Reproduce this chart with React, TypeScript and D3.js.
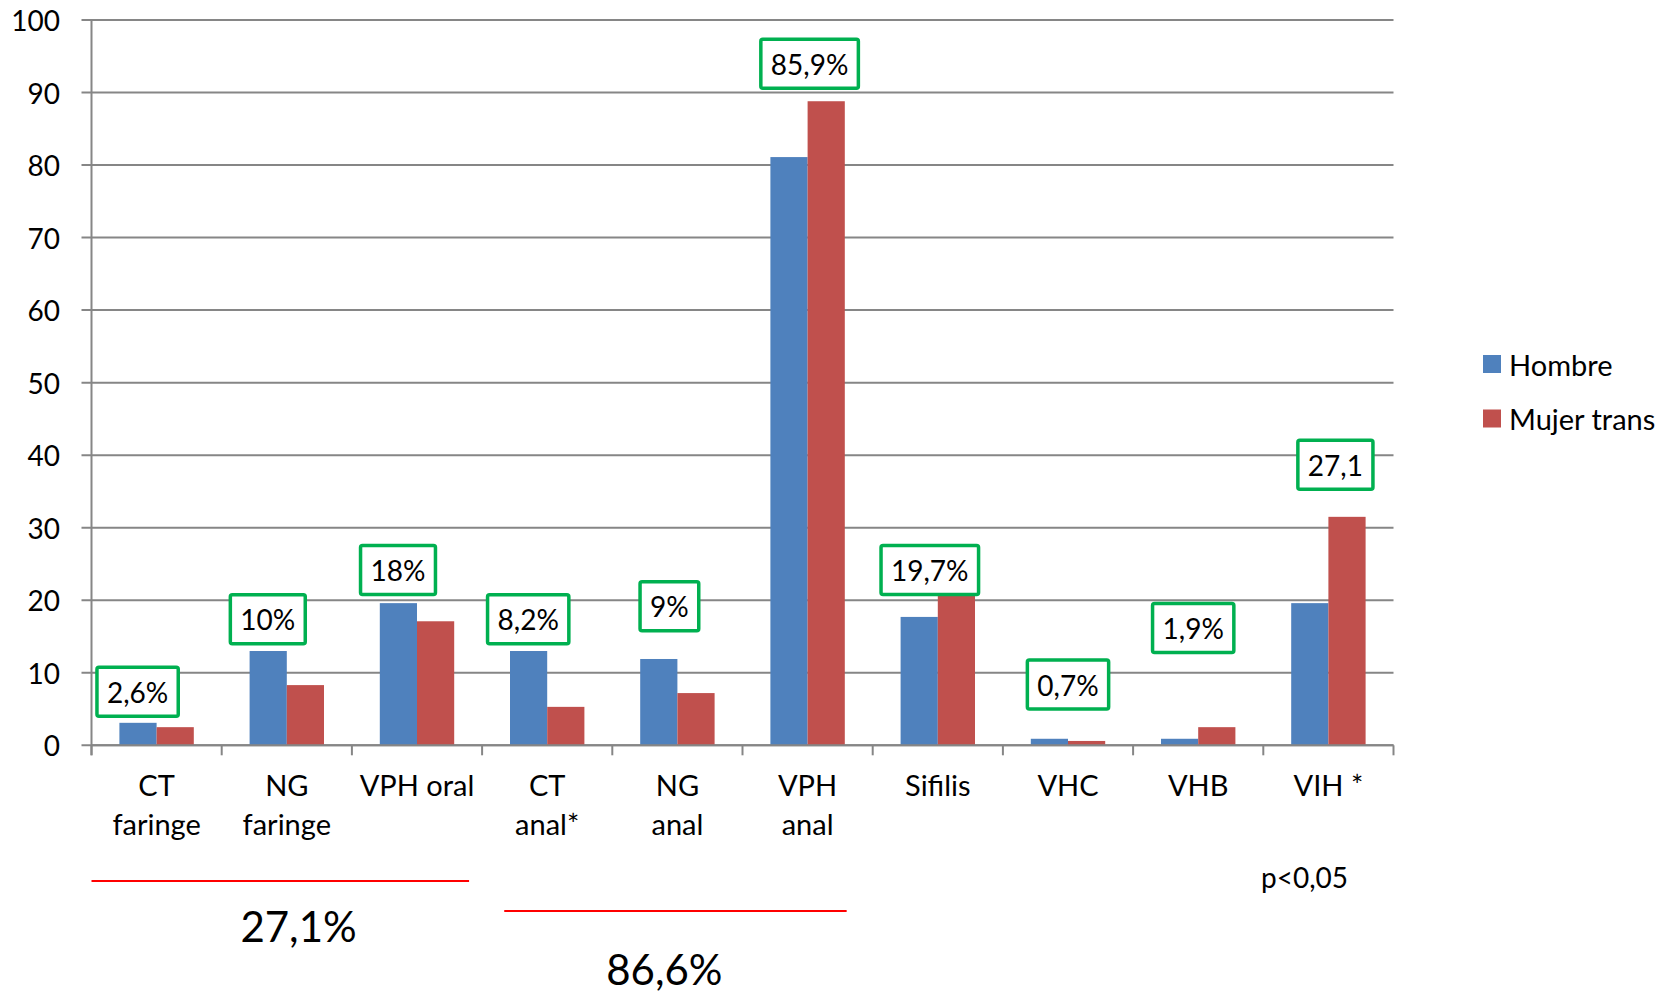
import { useEffect, useRef } from 'react';
import * as d3 from 'd3';

// Categories (multi-line labels) and the two series
const categories: string[][] = [
  ['CT', 'faringe'],
  ['NG', 'faringe'],
  ['VPH oral'],
  ['CT', 'anal*'],
  ['NG', 'anal'],
  ['VPH', 'anal'],
  ['Sifilis'],
  ['VHC'],
  ['VHB'],
  ['VIH *'],
];
const hombre = [3.1, 13.0, 19.6, 13.0, 11.9, 81.1, 17.7, 0.9, 0.9, 19.6];
const mujerTrans = [2.5, 8.3, 17.1, 5.3, 7.2, 88.8, 20.7, 0.6, 2.5, 31.5];
const seriesNames = ['Hombre', 'Mujer trans'];
const yTicks = [0, 10, 20, 30, 40, 50, 60, 70, 80, 90, 100];

// Overall prevalence callouts (green boxes) and the value their box sits on
const overallLabels = ['2,6%', '10%', '18%', '8,2%', '9%', '85,9%', '19,7%', '0,7%', '1,9%', '27,1'];
const overallAt = [4.0, 14.0, 20.8, 14.0, 15.8, 90.6, 20.8, 5.0, 12.8, 35.3];

// Grouped totals under the axis
const groupLabels = ['27,1%', '86,6%'];
const pNote = 'p<0,05';

// layout only
const boxShift = [-19, -19, -19, -19, -8, 2, -8, 0, -5, 7];
const groupSpans = [
  { from: 0, to: 2.9, lineY: 881, textC: 1.59, textY: 942 },
  { from: 3.17, to: 5.8, lineY: 911, textC: 4.4, textY: 985 },
];

const W = 1677;
const H = 993;
const FONT = 'Lato, "Open Sans", sans-serif';
const BLUE = '#4F81BD';
const RED = '#C0504D';
const GRID = '#868686';
const GREEN = '#00B050';

export default function App() {
  const svgRef = useRef<SVGSVGElement>(null);

  useEffect(() => {
    if (!svgRef.current) return;
    const svg = d3.select(svgRef.current);
    svg.selectAll('*').remove();

    const left = 91.5;
    const right = 1393.5;
    const top = 20;
    const bottom = 745.3;

    const x = d3.scaleBand<number>()
      .domain(d3.range(categories.length))
      .range([left, right])
      .paddingInner(0)
      .paddingOuter(0);
    const band = x.bandwidth();
    const barW = band / 3.5; // Excel gap width 150%

    const y = d3.scaleLinear().domain([0, 100]).range([bottom, top]);

    // gridlines + y ticks
    const grid = svg.append('g');
    grid.selectAll('line')
      .data(yTicks)
      .join('line')
      .attr('x1', left - 10)
      .attr('x2', right)
      .attr('y1', d => y(d))
      .attr('y2', d => y(d))
      .attr('stroke', GRID)
      .attr('stroke-width', 2);

    grid.selectAll('text')
      .data(yTicks)
      .join('text')
      .attr('x', 60)
      .attr('y', d => y(d))
      .attr('text-anchor', 'end')
      .attr('dominant-baseline', 'central')
      .style('font-family', FONT)
      .style('font-size', '28px')
      .style('fill', '#000')
      .text(d => d);

    // axes
    svg.append('line')
      .attr('x1', left).attr('x2', left)
      .attr('y1', top).attr('y2', bottom + 10)
      .attr('stroke', GRID).attr('stroke-width', 2);

    svg.append('g')
      .selectAll('line')
      .data(d3.range(categories.length + 1))
      .join('line')
      .attr('x1', i => left + i * band)
      .attr('x2', i => left + i * band)
      .attr('y1', bottom)
      .attr('y2', bottom + 10)
      .attr('stroke', GRID)
      .attr('stroke-width', 2);

    // bars
    const bars = svg.append('g');
    [hombre, mujerTrans].forEach((series, s) => {
      bars.append('g')
        .selectAll('rect')
        .data(series)
        .join('rect')
        .attr('x', (_, i) => (x(i) as number) + band / 2 - barW + s * barW)
        .attr('y', d => y(d))
        .attr('width', barW)
        .attr('height', d => bottom - y(d))
        .attr('fill', s === 0 ? BLUE : RED);
    });

    // x axis line drawn over the bars
    svg.append('line')
      .attr('x1', left).attr('x2', right)
      .attr('y1', bottom).attr('y2', bottom)
      .attr('stroke', GRID).attr('stroke-width', 2);

    // category labels
    const xl = svg.append('g');
    categories.forEach((lines, i) => {
      const cx = (x(i) as number) + band / 2;
      const t = xl.append('text')
        .attr('x', cx)
        .attr('y', 796)
        .attr('text-anchor', 'middle')
        .style('font-family', FONT)
        .style('font-size', '29px')
        .style('fill', '#000');
      lines.forEach((ln, k) => {
        t.append('tspan')
          .attr('x', cx)
          .attr('dy', k === 0 ? 0 : 39)
          .text(ln);
      });
    });

    // green callout boxes
    const boxes = svg.append('g');
    overallLabels.forEach((lab, i) => {
      const cx = (x(i) as number) + band / 2 + boxShift[i];
      const yb = y(overallAt[i]);
      const g = boxes.append('g');
      const rect = g.append('rect')
        .attr('fill', '#fff')
        .attr('stroke', GREEN)
        .attr('stroke-width', 3.5)
        .attr('rx', 2);
      const txt = g.append('text')
        .attr('x', cx)
        .attr('y', yb - 24.5)
        .attr('text-anchor', 'middle')
        .attr('dominant-baseline', 'central')
        .style('font-family', FONT)
        .style('font-size', '28px')
        .style('fill', '#000')
        .text(lab);
      const tw = (txt.node() as SVGTextElement).getComputedTextLength();
      const bw = tw + 20;
      rect.attr('x', cx - bw / 2)
        .attr('y', yb - 49)
        .attr('width', bw)
        .attr('height', 49);
    });

    // legend
    const legend = svg.append('g');
    seriesNames.forEach((name, i) => {
      const ly = 364 + i * 54.5;
      legend.append('rect')
        .attr('x', 1483)
        .attr('y', ly - 9)
        .attr('width', 18)
        .attr('height', 18)
        .attr('fill', i === 0 ? BLUE : RED);
      legend.append('text')
        .attr('x', 1509)
        .attr('y', ly)
        .attr('dominant-baseline', 'central')
        .style('font-family', FONT)
        .style('font-size', '29px')
        .style('fill', '#000')
        .text(name);
    });

    // group brackets under the axis
    groupSpans.forEach((gs, i) => {
      svg.append('line')
        .attr('x1', left + gs.from * band)
        .attr('x2', left + gs.to * band)
        .attr('y1', gs.lineY)
        .attr('y2', gs.lineY)
        .attr('stroke', '#FF0000')
        .attr('stroke-width', 2);
      svg.append('text')
        .attr('x', left + gs.textC * band)
        .attr('y', gs.textY)
        .attr('text-anchor', 'middle')
        .style('font-family', FONT)
        .style('font-size', '42px')
        .style('fill', '#000')
        .text(groupLabels[i]);
    });

    svg.append('text')
      .attr('x', 1261)
      .attr('y', 888)
      .style('font-family', FONT)
      .style('font-size', '28px')
      .style('fill', '#000')
      .text(pNote);
  }, []);

  return (
    <svg
      ref={svgRef}
      width={W}
      height={H}
      style={{ position: 'absolute', left: 0, top: 0, background: '#fff' }}
    />
  );
}
